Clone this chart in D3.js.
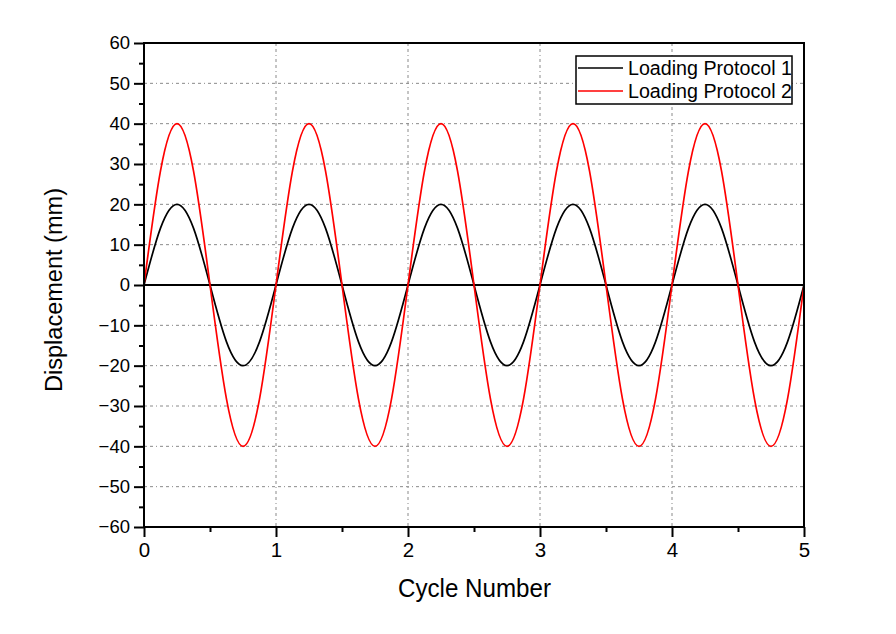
<!DOCTYPE html>
<head>
    <meta charset="utf-8" />
    <script src="https://d3js.org/d3.v7.min.js"></script>
    <style>
        body { margin: 0; background: #fff; }
        text { font-family: "Liberation Sans", Arial, sans-serif; fill: #000; }
    </style>
</head>
<body>
<div id="chart"></div>
<script>
    // data (one point every 1/8 cycle)
    const cycleNumber = [
        0, 0.125, 0.25, 0.375, 0.5, 0.625, 0.75, 0.875,
        1, 1.125, 1.25, 1.375, 1.5, 1.625, 1.75, 1.875,
        2, 2.125, 2.25, 2.375, 2.5, 2.625, 2.75, 2.875,
        3, 3.125, 3.25, 3.375, 3.5, 3.625, 3.75, 3.875,
        4, 4.125, 4.25, 4.375, 4.5, 4.625, 4.75, 4.875,
        5
    ];
    const protocol1 = [
        0, 14.1, 20, 14.1, 0, -14.1, -20, -14.1,
        0, 14.1, 20, 14.1, 0, -14.1, -20, -14.1,
        0, 14.1, 20, 14.1, 0, -14.1, -20, -14.1,
        0, 14.1, 20, 14.1, 0, -14.1, -20, -14.1,
        0, 14.1, 20, 14.1, 0, -14.1, -20, -14.1,
        0
    ];
    const protocol2 = [
        0, 28.3, 40, 28.3, 0, -28.3, -40, -28.3,
        0, 28.3, 40, 28.3, 0, -28.3, -40, -28.3,
        0, 28.3, 40, 28.3, 0, -28.3, -40, -28.3,
        0, 28.3, 40, 28.3, 0, -28.3, -40, -28.3,
        0, 28.3, 40, 28.3, 0, -28.3, -40, -28.3,
        0
    ];
    const seriesNames = ["Loading Protocol 1", "Loading Protocol 2"];
    const seriesColors = ["#000000", "#ff0000"];
    const xTicks = [0, 1, 2, 3, 4, 5];
    const xMinor = [0.5, 1.5, 2.5, 3.5, 4.5];
    const yTicks = [-60, -50, -40, -30, -20, -10, 0, 10, 20, 30, 40, 50, 60];
    const yMinor = [-55, -45, -35, -25, -15, -5, 5, 15, 25, 35, 45, 55];

    const width = 896, height = 634;
    const margin = { top: 43, right: 92, bottom: 107, left: 144 };
    const innerW = width - margin.left - margin.right,
          innerH = height - margin.top - margin.bottom;

    const svg = d3.select("#chart").append("svg")
        .attr("width", width)
        .attr("height", height);

    const g = svg.append("g")
        .attr("transform", "translate(" + margin.left + "," + margin.top + ")");

    const x = d3.scaleLinear().domain([0, 5]).range([0, innerW]);
    const y = d3.scaleLinear().domain([-60, 60]).range([innerH, 0]);

    // grid lines (dash-dot)
    g.selectAll(".gx").data(xTicks.slice(1, -1)).enter().append("line")
        .attr("x1", d => x(d)).attr("x2", d => x(d))
        .attr("y1", 0).attr("y2", innerH)
        .attr("stroke", "#8a8a8a").attr("stroke-width", 1)
        .attr("stroke-dasharray", "3,3,3,3,1,3");
    g.selectAll(".gy").data(yTicks.slice(1, -1).filter(d => d !== 0)).enter().append("line")
        .attr("x1", 0).attr("x2", innerW)
        .attr("y1", d => y(d)).attr("y2", d => y(d))
        .attr("stroke", "#8a8a8a").attr("stroke-width", 1)
        .attr("stroke-dasharray", "3,3,3,3,1,3");

    // zero line
    g.append("line")
        .attr("x1", 0).attr("x2", innerW)
        .attr("y1", y(0)).attr("y2", y(0))
        .attr("stroke", "#000").attr("stroke-width", 1.8);

    // curves
    const pts1 = cycleNumber.map((c, i) => [c, protocol1[i]]);
    const pts2 = cycleNumber.map((c, i) => [c, protocol2[i]]);
    const line = d3.line()
        .x(d => x(d[0]))
        .y(d => y(d[1]))
        .curve(d3.curveNatural);

    g.append("path").datum(pts1)
        .attr("d", line)
        .attr("fill", "none").attr("stroke", seriesColors[0]).attr("stroke-width", 1.7);
    g.append("path").datum(pts2)
        .attr("d", line)
        .attr("fill", "none").attr("stroke", seriesColors[1]).attr("stroke-width", 1.7);

    // axes
    const xAxis = g.append("g")
        .attr("transform", "translate(0," + innerH + ")")
        .call(d3.axisBottom(x).tickValues(xTicks).tickSize(10).tickPadding(5).tickFormat(d3.format("d")));
    const xAxisMinor = g.append("g")
        .attr("transform", "translate(0," + innerH + ")")
        .call(d3.axisBottom(x).tickValues(xMinor).tickSize(5).tickFormat(""));
    const yAxis = g.append("g")
        .call(d3.axisLeft(y).tickValues(yTicks).tickSize(10).tickPadding(4).tickFormat(d3.format("d")));
    const yAxisMinor = g.append("g")
        .call(d3.axisLeft(y).tickValues(yMinor).tickSize(5).tickFormat(""));

    [xAxis, xAxisMinor, yAxis, yAxisMinor].forEach(a => {
        a.select(".domain").remove();
        a.selectAll("line").attr("stroke", "#000").attr("stroke-width", 2);
        a.selectAll("text")
            .style("font-family", "'Liberation Sans', Arial, sans-serif")
            .attr("fill", "#000");
    });
    yAxis.selectAll("text").style("font-size", "18.5px");
    xAxis.selectAll("text").style("font-size", "20.5px");

    // frame
    g.append("rect")
        .attr("x", 0).attr("y", 0)
        .attr("width", innerW).attr("height", innerH)
        .attr("fill", "none").attr("stroke", "#000").attr("stroke-width", 2);

    // axis titles
    svg.append("text")
        .attr("x", 398)
        .attr("y", 597)
        .attr("textLength", 153)
        .attr("lengthAdjust", "spacingAndGlyphs")
        .style("font-size", "25px")
        .text("Cycle Number");
    svg.append("text")
        .attr("transform", "translate(62,392) rotate(-90)")
        .attr("textLength", 204)
        .attr("lengthAdjust", "spacingAndGlyphs")
        .style("font-size", "23px")
        .text("Displacement (mm)");

    // legend
    const lg = g.append("g")
        .attr("transform", "translate(" + (576 - margin.left) + "," + (56 - margin.top) + ")");
    lg.append("rect")
        .attr("width", 216).attr("height", 48)
        .attr("fill", "#fff").attr("stroke", "#000").attr("stroke-width", 1.5);
    seriesNames.forEach((name, i) => {
        const cy = 12 + i * 23;
        lg.append("line")
            .attr("x1", 2).attr("x2", 47)
            .attr("y1", cy).attr("y2", cy)
            .attr("stroke", seriesColors[i]).attr("stroke-width", 1.7);
        lg.append("text")
            .attr("x", 52).attr("y", cy + 7)
            .attr("textLength", 164)
            .attr("lengthAdjust", "spacingAndGlyphs")
            .style("font-size", "20px")
            .text(name);
    });
</script>
</body>
